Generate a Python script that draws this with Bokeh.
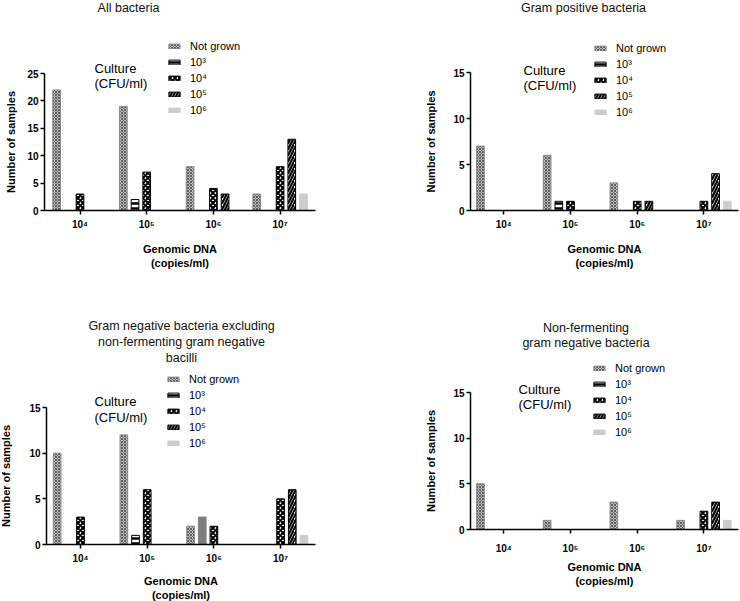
from bokeh.plotting import figure
from bokeh.models import (Range1d, FixedTicker, Legend, LegendItem, Label,
                          ColumnDataSource)
from bokeh.layouts import column, row
from bokeh.transform import dodge
from bokeh.embed import file_html
from bokeh.resources import INLINE

# ---------------- data ----------------
dna_levels = ["10⁴", "10⁵", "10⁶", "10⁷"]          # Genomic DNA (copies/ml)
culture_levels = ["Not grown", "10³", "10⁴", "10⁵", "10⁶"]  # Culture (CFU/ml)

# All bacteria
all_not_grown = [22, 19, 8, 3]
all_c3 = [0, 2, 0, 0]
all_c4 = [3, 7, 4, 8]
all_c5 = [0, 0, 3, 13]
all_c6 = [0, 0, 0, 3]

# Gram positive bacteria
gp_not_grown = [7, 6, 3, 0]
gp_c3 = [0, 1, 0, 0]
gp_c4 = [0, 1, 1, 1]
gp_c5 = [0, 0, 1, 4]
gp_c6 = [0, 0, 0, 1]

# Gram negative bacteria excluding non-fermenting gram negative bacilli
gn_not_grown = [10, 12, 2, 0]
gn_c3 = [0, 1, 3, 0]
gn_c4 = [3, 6, 2, 5]
gn_c5 = [0, 0, 0, 6]
gn_c6 = [0, 0, 0, 1]
gn_c3_solid = [False, False, True, False]   # bar printed as solid dark grey

# Non-fermenting gram negative bacteria
nf_not_grown = [5, 1, 3, 1]
nf_c3 = [0, 0, 0, 0]
nf_c4 = [0, 0, 0, 2]
nf_c5 = [0, 0, 0, 3]
nf_c6 = [0, 0, 0, 1]

FONT = "Liberation Sans"
PPU = 66.7            # px per DNA category
OFFSETS = [-0.35, -0.175, 0.0, 0.175, 0.35]
BAR_W = 0.115

STYLES = [
    dict(fill="#bdbdbd", hatch="diagonal_cross", hcolor="#5e5e5e", hscale=3, hweight=1.0, line="#8a8a8a"),
    dict(fill="white", hatch="horizontal_line", hcolor="black", hscale=5, hweight=2.5, line="black"),
    dict(fill="white", hatch="diagonal_cross", hcolor="black", hscale=5, hweight=2.0, line="black"),
    dict(fill="white", hatch="right_diagonal_line", hcolor="black", hscale=6, hweight=2.2, line="black"),
    dict(fill="#cccccc", hatch="blank", hcolor="black", hscale=4, hweight=1, line="#cccccc"),
]


def panel(series, solid, ymax, yticks, title_lines, title_cx, title_cys,
          fx, fy, fw, fh, ax_left, ax_right, y0, ytop, tick0,
          leg_x, leg_top, cult_x, cult_ys, s1, s2, ylab_s):
    ppy = (y0 - ytop) / ymax

    def dx(px):
        return (px - tick0) / PPU

    def dy(py):
        return (y0 - py) / ppy

    p = figure(frame_width=fw, frame_height=fh,
               x_range=Range1d(dx(fx), dx(fx + fw)),
               y_range=Range1d(dy(fy + fh), dy(fy)),
               min_border=0, output_backend="svg", toolbar_location=None)
    p.title.visible = False
    p.outline_line_color = None
    p.xgrid.visible = False
    p.ygrid.visible = False

    data = dict(x=list(range(len(dna_levels))), dna=dna_levels)
    for k, vals in enumerate(series):
        st = STYLES[k]
        data[f"v{k}"] = vals
        fills, hatches, lines = [], [], []
        for i in range(len(vals)):
            if k == 1 and solid is not None and solid[i]:
                fills.append("#7f7f7f"); hatches.append("blank"); lines.append("#7f7f7f")
            else:
                fills.append(st["fill"]); hatches.append(st["hatch"]); lines.append(st["line"])
        data[f"f{k}"] = fills
        data[f"h{k}"] = hatches
        data[f"l{k}"] = lines
    src = ColumnDataSource(data)

    renderers = []
    for k in range(len(series)):
        st = STYLES[k]
        r = p.vbar(x=dodge("x", OFFSETS[k], range=p.x_range), top=f"v{k}", width=BAR_W,
                   bottom=0, source=src, fill_color=f"f{k}", line_color=f"l{k}",
                   line_width=1, hatch_pattern=f"h{k}", hatch_color=st["hcolor"],
                   hatch_scale=st["hscale"], hatch_weight=st["hweight"])
        renderers.append(r)

    # axes
    for ax in (p.xaxis[0], p.yaxis[0]):
        ax.axis_line_width = 1.5
        ax.axis_line_color = "black"
        ax.major_tick_line_width = 1.5
        ax.major_tick_line_color = "black"
        ax.major_tick_out = 4
        ax.major_tick_in = 0
        ax.minor_tick_line_color = None
        ax.major_label_text_font = FONT
        ax.major_label_text_font_style = "bold"
        ax.major_label_text_font_size = "10px"
        ax.major_label_text_color = "black"
        ax.axis_label_text_font = FONT
        ax.axis_label_text_font_style = "bold"
        ax.axis_label_text_font_size = "11px"
        ax.axis_label_text_color = "black"

    xa = p.xaxis[0]
    xa.fixed_location = 0
    xa.bounds = (dx(ax_left), dx(ax_right))
    xa.ticker = FixedTicker(ticks=list(range(len(dna_levels))))
    xa.major_label_overrides = {i: lab for i, lab in enumerate(dna_levels)}
    xa.major_label_standoff = s1
    xa.axis_label = "Genomic DNA\n(copies/ml)"
    xa.axis_label_standoff = s2

    ya = p.yaxis[0]
    ya.fixed_location = dx(ax_left)
    ya.bounds = (0, ymax)
    ya.ticker = FixedTicker(ticks=yticks)
    ya.major_label_standoff = 2
    ya.axis_label = "Number of samples"
    ya.axis_label_standoff = ylab_s

    # legend
    items = [LegendItem(label=culture_levels[k], renderers=[renderers[k]], index=0)
             for k in range(len(series))]
    n = len(items)
    pitch = 16
    leg = Legend(items=items, location=(leg_x - fx, (fy + fh) - (leg_top + n * pitch)),
                 padding=0, margin=0, spacing=2, glyph_width=14, glyph_height=6,
                 label_height=14, label_standoff=9, label_text_font=FONT,
                 label_text_font_size="11px", label_text_color="black",
                 border_line_color=None, background_fill_alpha=0)
    p.add_layout(leg)

    # culture annotation
    for txt, cy in zip(["Culture", "(CFU/ml)"], cult_ys):
        p.add_layout(Label(x=dx(cult_x), y=dy(cy), text=txt, text_align="left",
                           text_baseline="middle", text_font=FONT,
                           text_font_size="13px", text_color="black"))
    # title
    for txt, cy in zip(title_lines, title_cys):
        p.add_layout(Label(x=dx(title_cx), y=dy(cy), text=txt, text_align="center",
                           text_baseline="middle", text_font=FONT,
                           text_font_size="12.5px", text_color="#111111"))
    return p


p1 = panel([all_not_grown, all_c3, all_c4, all_c5, all_c6], None, 25, [0, 5, 10, 15, 20, 25],
           ["All bacteria"], 128, [7],
           0, 0, 370, 290, 44, 315, 210, 73, 79.5,
           167, 37, 94, [68, 83], 4, 10, 7)
p2 = panel([gp_not_grown, gp_c3, gp_c4, gp_c5, gp_c6], None, 15, [0, 5, 10, 15],
           ["Gram positive bacteria"], 583, [7],
           370, 0, 370, 290, 470, 738, 210, 72, 503.3,
           593, 39, 523, [70, 85], 4, 10, 13)
p3 = panel([gn_not_grown, gn_c3, gn_c4, gn_c5, gn_c6], gn_c3_solid, 15, [0, 5, 10, 15],
           ["Gram negative bacteria excluding", "non-fermenting gram negative", "bacilli"],
           181, [325, 341, 357],
           0, 290, 370, 311, 46, 315, 544, 407, 80,
           166, 370, 94, [401, 417], 4, 8, 14)
p4 = panel([nf_not_grown, nf_c3, nf_c4, nf_c5, nf_c6], None, 15, [0, 5, 10, 15],
           ["Non-fermenting", "gram negative bacteria"], 585.5, [327, 342],
           370, 290, 370, 311, 470, 738, 529, 392, 503.3,
           592, 359, 518, [389, 404], 9, 4, 13)

layout = column(row(p1, p2), row(p3, p4))

with open("out.html", "w") as f:
    f.write(file_html(layout, INLINE))
